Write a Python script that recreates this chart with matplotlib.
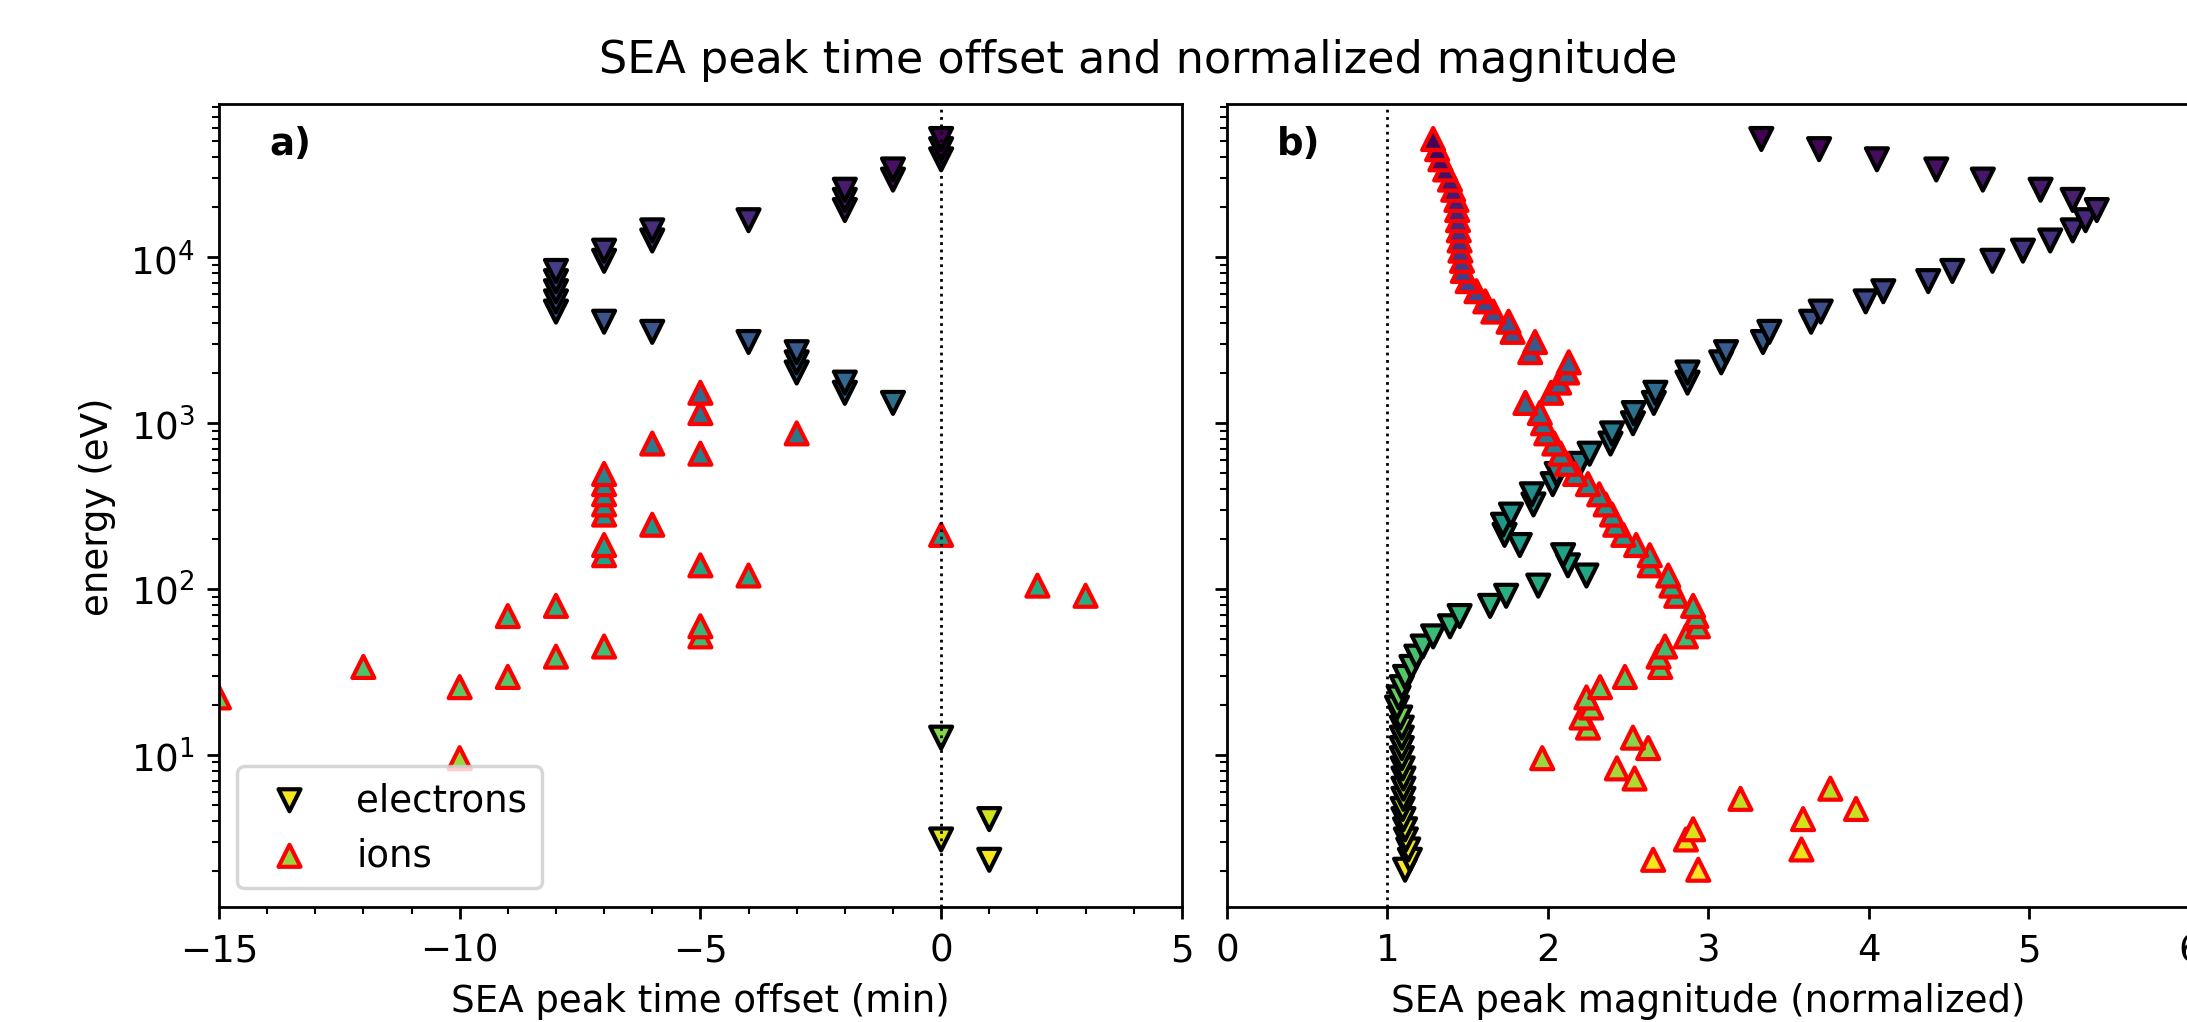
import numpy as np
import matplotlib
matplotlib.use("Agg")
import matplotlib.pyplot as plt
from matplotlib.colors import LogNorm
from matplotlib.ticker import MultipleLocator

plt.rcParams["font.size"] = 10.7

# energy channels (eV), low to high
energy = [2.03, 2.33, 2.69, 3.09, 3.56, 4.10, 4.72, 5.43, 6.25, 7.20,
          8.29, 9.55, 10.99, 12.7, 14.6, 16.8, 19.3, 22.2, 25.6, 29.5,
          33.9, 39.1, 45.0, 51.8, 59.6, 68.7, 79.1, 91.0, 104.8, 120.6,
          138.9, 159.9, 184.1, 212.0, 244.0, 281.0, 323.5, 372.4, 428.8, 493.7,
          568.4, 654.4, 753.4, 867.4, 998.6, 1150, 1324, 1524, 1755, 2020,
          2326, 2678, 3083, 3550, 4087, 4705, 5420, 6240, 7180, 8270,
          9520, 10960, 12620, 14530, 16730, 19260, 22170, 25530, 29390, 33840,
          38960, 44860, 51640]

# normalized SEA peak magnitude per channel
elec_mag = [1.11, 1.14, 1.13, 1.115, 1.11, 1.10, 1.095, 1.10, 1.10, 1.10,
            1.095, 1.09, 1.09, 1.09, 1.09, 1.08, 1.06, 1.07, 1.09, 1.11,
            1.15, 1.18, 1.22, 1.285, 1.39, 1.45, 1.64, 1.74, 1.94, 2.24,
            2.125, 2.095, 1.825, 1.73, 1.72, 1.77, 1.91, 1.90, 2.03, 2.055,
            2.20, 2.26, 2.39, 2.40, 2.53, 2.535, 2.66, 2.67, 2.87, 2.87,
            3.08, 3.11, 3.34, 3.38, 3.64, 3.70, 3.98, 4.09, 4.37, 4.52,
            4.77, 4.96, 5.13, 5.27, 5.35, 5.42, 5.27, 5.07, 4.71, 4.42,
            4.05, 3.69, 3.33]
ion_mag = [2.937, 2.656, 3.58, 2.86, 2.905, 3.59, 3.92, 3.20, 3.76,
           2.54, 2.43, 1.965, 2.625, 2.53, 2.25, 2.21, 2.27, 2.24, 2.325, 2.48,
           2.70, 2.69, 2.73, 2.86, 2.935, 2.925, 2.905, 2.80, 2.77, 2.75,
           2.635, 2.635, 2.55, 2.47, 2.42, 2.40,
           2.36, 2.32, 2.25, 2.17, 2.12, 2.08, 2.04, 1.99, 1.97, 1.95, 1.86,
           2.02, 2.07, 2.12, 2.13,
           1.89, 1.92, 1.78, 1.755, 1.66, 1.61, 1.555, 1.50,
           1.47, 1.465, 1.455, 1.45, 1.445, 1.44, 1.435, 1.43, 1.41, 1.39,
           1.36, 1.33, 1.31, 1.285]

# SEA peak time offsets (min), only channels inside the plotted window
elec_t_energy = [2.33, 3.09, 4.10, 12.7, 1324, 1524, 1755, 2020, 2326, 2678,
                 3083, 3550, 4087, 4705, 5420, 6240, 7180, 8270, 9520, 10960,
                 12620, 14530, 16730, 19260, 22170, 25530, 29390, 33840, 38960,
                 44860, 51640]
elec_t = [1, 0, 1, 0, -1, -2, -2, -3, -3, -3,
          -4, -6, -7, -8, -8, -8, -8, -8, -7, -7,
          -6, -6, -4, -2, -2, -2, -1, -1, 0,
          0, 0]
ion_t_energy = [9.55, 22.2, 25.6, 29.5, 33.9, 39.1, 45.0, 51.8, 59.6, 68.7,
                79.1, 91.0, 104.8, 120.6, 138.9, 159.9, 184.1, 212.0, 244.0, 281.0,
                323.5, 372.4, 428.8, 493.7, 654.4, 753.4, 867.4, 1150, 1524]
ion_t = [-10, -15, -10, -9, -12, -8, -7, -5, -5, -9,
         -8, 3, 2, -4, -5, -7, -7, 0, -6, -7,
         -7, -7, -7, -7, -5, -6, -3, -5, -5]

norm = LogNorm(vmin=min(energy), vmax=max(energy))
cmap = "viridis_r"
ekw = dict(marker="v", edgecolors="black", linewidths=1.2, s=40, cmap=cmap, norm=norm)
ikw = dict(marker="^", edgecolors="red", linewidths=1.2, s=40, cmap=cmap, norm=norm)

fig = plt.figure(figsize=(8.748, 4.092), dpi=250)
ax1 = fig.add_axes([0.1001, 0.1124, 0.4403, 0.7850])
ax2 = fig.add_axes([0.5610, 0.1124, 0.4403, 0.7850], sharey=ax1)

ax1.scatter(elec_t, elec_t_energy, c=elec_t_energy, label="electrons", **ekw)
ax1.scatter(ion_t, ion_t_energy, c=ion_t_energy, label="ions", **ikw)
ax1.axvline(0, color="black", ls=":", lw=0.8)
ax1.set_yscale("log")
ax1.set_xlim(-15, 5)
ax1.xaxis.set_major_locator(MultipleLocator(5))
ax1.xaxis.set_minor_locator(MultipleLocator(1))
ax1.set_xlabel("SEA peak time offset (min)")
ax1.set_ylabel("energy (eV)")
ax1.text(0.052, 0.951, "a)", transform=ax1.transAxes, fontweight="bold",
         va="center", ha="left")
ax1.legend(loc="lower left")

ax2.scatter(elec_mag, energy, c=energy, **ekw)
ax2.scatter(ion_mag, energy, c=energy, **ikw)
ax2.axvline(1, color="black", ls=":", lw=0.8)
ax2.set_xlim(0, 6)
ax2.set_xlabel("SEA peak magnitude (normalized)")
ax2.tick_params(labelleft=False)
ax2.text(0.052, 0.951, "b)", transform=ax2.transAxes, fontweight="bold",
         va="center", ha="left")

ax1.set_ylim(1.21, 8.4e4)
fig.suptitle("SEA peak time offset and normalized magnitude", x=0.5205, y=0.962)

fig.savefig("out.png", dpi=250)
